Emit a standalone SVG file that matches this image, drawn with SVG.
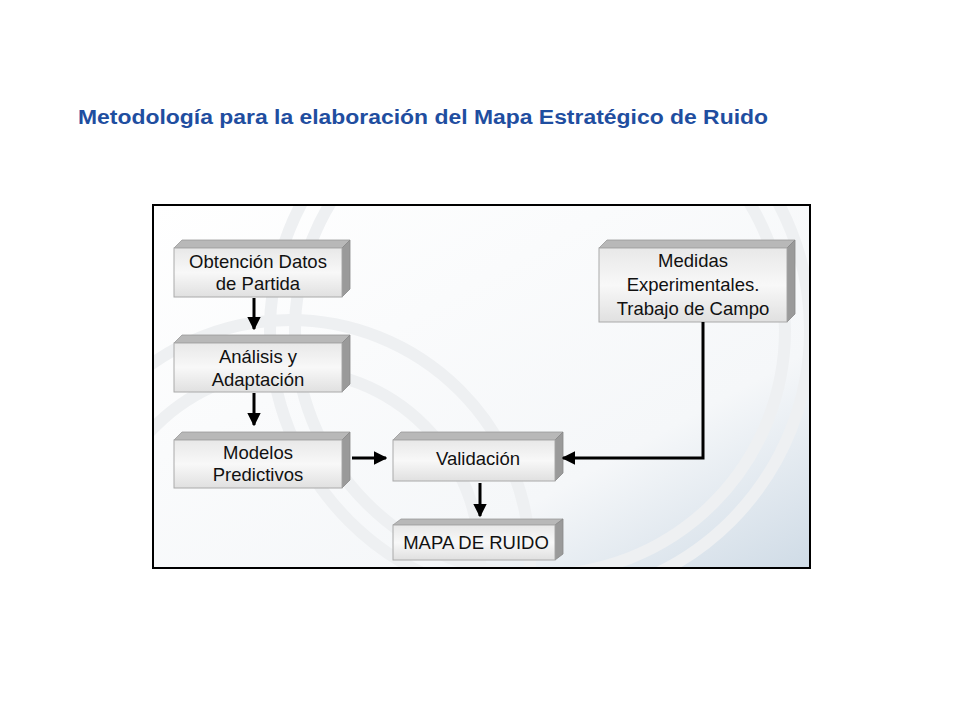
<svg xmlns="http://www.w3.org/2000/svg" width="960" height="720" viewBox="0 0 960 720">
<defs>
<linearGradient id="bg" x1="0" y1="0" x2="1" y2="1"><stop offset="0" stop-color="#ffffff"/><stop offset="0.7" stop-color="#f5f7f9"/><stop offset="1" stop-color="#cfdbe6"/></linearGradient>
<linearGradient id="front" x1="0" y1="0" x2="0" y2="1"><stop offset="0" stop-color="#e8e8e8"/><stop offset="0.5" stop-color="#f8f8f8"/><stop offset="1" stop-color="#e0e0e0"/></linearGradient>
<marker id="ah" viewBox="0 0 10 10" refX="9" refY="5" markerWidth="4.5" markerHeight="4.5" orient="auto"><path d="M0,0L10,5L0,10z" fill="#000"/></marker>
<clipPath id="cp"><rect x="154" y="206" width="655" height="361"/></clipPath>
</defs>
<style>
.f{fill:url(#front);stroke:#aaa;stroke-width:1}
.t{fill:#b8b8b8;stroke:#999;stroke-width:0.8}
.s{fill:#9a9a9a;stroke:#888;stroke-width:0.8}
.l{font-family:"Liberation Sans",Arial,sans-serif;font-size:18.5px;fill:#111;text-anchor:middle}
.c{fill:none;stroke:#000;stroke-width:3;marker-end:url(#ah)}
.arc{fill:none;stroke:#eef0f2;stroke-width:12}
</style>
<rect width="960" height="720" fill="#fff"/>
<text x="78" y="124" font-family="Liberation Sans,Arial,sans-serif" font-size="20" font-weight="bold" fill="#1f4ea0" textLength="690" lengthAdjust="spacingAndGlyphs">Metodología para la elaboración del Mapa Estratégico de Ruido</text>
<rect x="153" y="205" width="657" height="363" fill="url(#bg)"/>
<g clip-path="url(#cp)">
<circle class="arc" cx="290" cy="560" r="190"/>
<circle class="arc" cx="290" cy="560" r="240"/>
<circle class="arc" cx="540" cy="330" r="270"/>
<circle class="arc" cx="540" cy="330" r="245"/>
</g>
<rect x="153" y="205" width="657" height="363" fill="none" stroke="#000" stroke-width="2"/>
<g id="n1"><polygon class="t" points="174,248 182,240 350,240 342,248"/><polygon class="s" points="342,248 350,240 350,289 342,297"/><rect class="f" x="174" y="248" width="168" height="49"/><text class="l" x="258" y="268">Obtención Datos</text><text class="l" x="258" y="290">de Partida</text></g>
<g id="n2"><polygon class="t" points="174,343 182,335 350,335 342,343"/><polygon class="s" points="342,343 350,335 350,384 342,392"/><rect class="f" x="174" y="343" width="168" height="49"/><text class="l" x="258" y="363">Análisis y</text><text class="l" x="258" y="386">Adaptación</text></g>
<g id="n3"><polygon class="t" points="174,440 182,432 350,432 342,440"/><polygon class="s" points="342,440 350,432 350,480 342,488"/><rect class="f" x="174" y="440" width="168" height="48"/><text class="l" x="258" y="459">Modelos</text><text class="l" x="258" y="481">Predictivos</text></g>
<g id="n4"><polygon class="t" points="393,440 401,432 563,432 555,440"/><polygon class="s" points="555,440 563,432 563,473 555,481"/><rect class="f" x="393" y="440" width="162" height="41"/><text class="l" x="478" y="465">Validación</text></g>
<g id="n5"><polygon class="t" points="393,525 401,519 563,519 555,525"/><polygon class="s" points="555,525 563,519 563,554 555,560"/><rect class="f" x="393" y="525" width="162" height="35"/><text class="l" x="476" y="549">MAPA DE RUIDO</text></g>
<g id="n6"><polygon class="t" points="599,248 607,240 795,240 787,248"/><polygon class="s" points="787,248 795,240 795,314 787,322"/><rect class="f" x="599" y="248" width="188" height="74"/><text class="l" x="693" y="267">Medidas</text><text class="l" x="693" y="291">Experimentales.</text><text class="l" x="693" y="315">Trabajo de Campo</text></g>
<g id="connectors">
<path class="c" d="M254,298V329"/>
<path class="c" d="M254,393V425"/>
<path class="c" d="M352,458H386"/>
<path class="c" d="M480,483V516"/>
<path class="c" d="M703,322V458H563"/>
</g>
</svg>
